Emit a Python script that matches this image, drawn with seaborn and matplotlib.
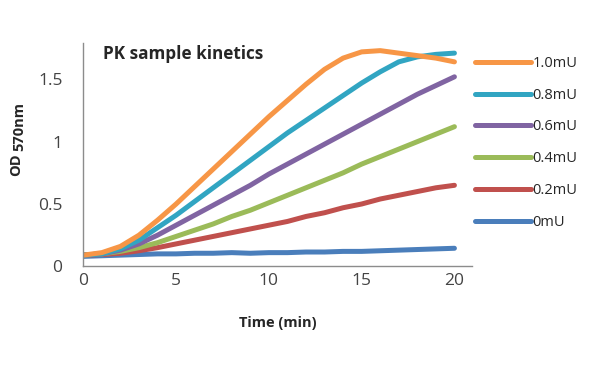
import matplotlib
matplotlib.use("Agg")
import matplotlib.pyplot as plt
import seaborn as sns
import pandas as pd

# time points (min)
time_min = list(range(21))

# OD 570nm readings per PK amount
od_1_0 = [0.09, 0.11, 0.16, 0.25, 0.37, 0.50, 0.64, 0.78, 0.92, 1.06, 1.20,
          1.33, 1.46, 1.58, 1.67, 1.72, 1.73, 1.71, 1.69, 1.67, 1.64]
od_0_8 = [0.09, 0.10, 0.14, 0.21, 0.31, 0.41, 0.52, 0.63, 0.74, 0.85, 0.96,
          1.07, 1.17, 1.27, 1.37, 1.47, 1.56, 1.64, 1.68, 1.70, 1.71]
od_0_6 = [0.09, 0.10, 0.13, 0.18, 0.25, 0.33, 0.41, 0.49, 0.57, 0.65, 0.74,
          0.82, 0.90, 0.98, 1.06, 1.14, 1.22, 1.30, 1.38, 1.45, 1.52]
od_0_4 = [0.09, 0.10, 0.12, 0.15, 0.19, 0.24, 0.29, 0.34, 0.40, 0.45, 0.51,
          0.57, 0.63, 0.69, 0.75, 0.82, 0.88, 0.94, 1.00, 1.06, 1.12]
od_0_2 = [0.09, 0.095, 0.105, 0.125, 0.15, 0.18, 0.21, 0.24, 0.27, 0.30, 0.33,
          0.36, 0.40, 0.43, 0.47, 0.50, 0.54, 0.57, 0.60, 0.63, 0.65]
od_0 = [0.08, 0.085, 0.09, 0.095, 0.10, 0.10, 0.105, 0.105, 0.11, 0.105, 0.11,
        0.11, 0.115, 0.115, 0.12, 0.12, 0.125, 0.13, 0.135, 0.14, 0.145]

labels = ["1.0mU", "0.8mU", "0.6mU", "0.4mU", "0.2mU", "0mU"]
series = [od_1_0, od_0_8, od_0_6, od_0_4, od_0_2, od_0]
colors = ["#F79646", "#31A5C2", "#8064A2", "#9BBB59", "#C0504D", "#4A7EBB"]

rows = []
for lab, vals in zip(labels, series):
    for t, v in zip(time_min, vals):
        rows.append({"Time": t, "OD": v, "Sample": lab})
df = pd.DataFrame(rows)

sns.set_style("white")
plt.rcParams["font.family"] = ["Open Sans", "DejaVu Sans"]

fig = plt.figure(figsize=(5.95, 3.72), dpi=100)
ax = fig.add_axes([0.1400, 0.284, 0.654, 0.600])

# draw 0mU first so the higher curves sit on top
sns.lineplot(data=df, x="Time", y="OD", hue="Sample",
             hue_order=labels[::-1], palette=colors[::-1],
             linewidth=3.6, ax=ax, legend=False)
for ln in ax.get_lines():
    ln.set_solid_joinstyle("round")
    ln.set_solid_capstyle("round")

ax.set_xlim(0, 20.97)
ax.set_ylim(0, 1.79)
ax.set_xticks([0, 5, 10, 15, 20])
ax.set_yticks([0, 0.5, 1, 1.5])
ax.set_yticklabels(["0", "0.5", "1", "1.5"])

for s in ["top", "right"]:
    ax.spines[s].set_visible(False)
for s in ["left", "bottom"]:
    ax.spines[s].set_color("#8c8c8c")
    ax.spines[s].set_linewidth(1.0)

ax.tick_params(axis="x", direction="inout", length=8, color="#8c8c8c",
               labelsize=12.5, labelcolor="#444444", pad=1)
ax.tick_params(axis="y", direction="out", length=5, color="#8c8c8c",
               labelsize=12.5, labelcolor="#444444", pad=10)

ax.set_xlabel("Time (min)", fontsize=10.5, fontweight="bold", labelpad=19)
ax.set_ylabel("")

# y label with lowered "570nm"
fig.text(16 / 595, 1 - 165 / 372, "OD", rotation=90, fontsize=10.5,
         fontweight="bold", ha="center", va="center")
fig.text(19 / 595, 1 - 127 / 372, "570nm", rotation=90, fontsize=10.5,
         fontweight="bold", ha="center", va="center")

ax.text(0.051, 0.95, "PK sample kinetics", transform=ax.transAxes,
        fontsize=12.3, fontweight="bold", va="center", ha="left")

handles = [plt.Line2D([], [], color=c, linewidth=3.6) for c in colors]
fig.legend(handles, labels, loc="upper left", bbox_to_anchor=(0.777, 0.885),
           frameon=False, fontsize=10.5, handlelength=3.8, handletextpad=0.1,
           labelspacing=1.15)

fig.savefig("out.png", dpi=100)
